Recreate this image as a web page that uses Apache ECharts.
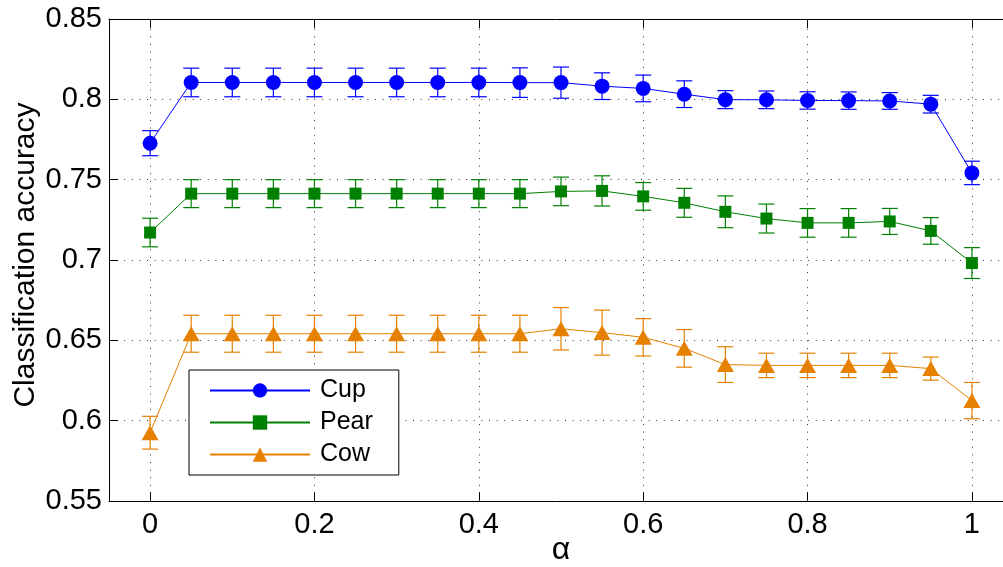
<!DOCTYPE html>
<html>
<head>
<meta charset="utf-8">
<script src="https://cdn.jsdelivr.net/npm/echarts@6/dist/echarts.min.js"></script>
<style>
  html, body { margin: 0; padding: 0; background: #ffffff; }
  #chart { width: 1003px; height: 567px; }
</style>
</head>
<body>
<div id="chart"></div>
<script>
// Regularisation weight alpha and mean accuracy (± std) per object class
const alpha = [0, 0.05, 0.1, 0.15, 0.2, 0.25, 0.3, 0.35, 0.4, 0.45, 0.5,
               0.55, 0.6, 0.65, 0.7, 0.75, 0.8, 0.85, 0.9, 0.95, 1];

const cupAcc = [0.7727, 0.8105, 0.8105, 0.8105, 0.8105, 0.8105, 0.8105, 0.8105, 0.8105, 0.8104, 0.8104,
                0.8082, 0.8068, 0.8032, 0.7998, 0.7997, 0.7993, 0.7992, 0.7990, 0.7970, 0.7542];
const cupErr = [0.0078, 0.0089, 0.0089, 0.0089, 0.0089, 0.0089, 0.0089, 0.0089, 0.0089, 0.0092, 0.0097,
                0.0083, 0.0083, 0.0083, 0.0056, 0.0055, 0.0054, 0.0054, 0.0052, 0.0055, 0.0073];

const pearAcc = [0.7171, 0.7413, 0.7413, 0.7413, 0.7413, 0.7413, 0.7413, 0.7413, 0.7413, 0.7413, 0.7427,
                 0.7430, 0.7396, 0.7356, 0.7300, 0.7258, 0.7231, 0.7231, 0.7240, 0.7181, 0.6981];
const pearErr = [0.0089, 0.0087, 0.0087, 0.0087, 0.0087, 0.0087, 0.0087, 0.0087, 0.0087, 0.0087, 0.0089,
                 0.0094, 0.0086, 0.0090, 0.0099, 0.0090, 0.0089, 0.0089, 0.0081, 0.0083, 0.0096];

const cowAcc = [0.5925, 0.6541, 0.6541, 0.6541, 0.6541, 0.6541, 0.6541, 0.6541, 0.6541, 0.6541, 0.6572,
                0.6548, 0.6519, 0.6450, 0.6349, 0.6344, 0.6344, 0.6344, 0.6344, 0.6324, 0.6125];
const cowErr = [0.0102, 0.0115, 0.0115, 0.0115, 0.0115, 0.0115, 0.0115, 0.0115, 0.0115, 0.0115, 0.0132,
                0.0140, 0.0116, 0.0117, 0.0111, 0.0076, 0.0076, 0.0076, 0.0076, 0.0072, 0.0113];

const seriesNames = ['Cup', 'Pear', 'Cow'];
const xTickValues = [0, 0.2, 0.4, 0.6, 0.8, 1];

const FONT = '"Liberation Sans", Arial, Helvetica, sans-serif';
const COLORS = { Cup: '#0000ff', Pear: '#008000', Cow: '#e68000' };

function pointsOf(acc) {
  return alpha.map((a, i) => [a, acc[i]]);
}
function barsOf(acc, err) {
  return alpha.map((a, i) => [a, acc[i] - err[i], acc[i] + err[i]]);
}

// Vertical bar with horizontal caps at both ends
function errorBarRenderer(color) {
  return function (params, api) {
    const x = api.value(0);
    const lo = api.coord([x, api.value(1)]);
    const hi = api.coord([x, api.value(2)]);
    const half = 8;
    const style = { stroke: color, lineWidth: 1.2 };
    return {
      type: 'group',
      children: [
        { type: 'line', shape: { x1: hi[0], y1: hi[1], x2: lo[0], y2: lo[1] }, style: style },
        { type: 'line', shape: { x1: hi[0] - half, y1: hi[1], x2: hi[0] + half, y2: hi[1] }, style: style },
        { type: 'line', shape: { x1: lo[0] - half, y1: lo[1], x2: lo[0] + half, y2: lo[1] }, style: style }
      ]
    };
  };
}

const gridDots = { color: '#333333', width: 1, type: [1, 6.6] };

const classes = [
  { name: 'Cup',  acc: cupAcc,  err: cupErr,  symbol: 'circle',   size: 15 },
  { name: 'Pear', acc: pearAcc, err: pearErr, symbol: 'rect',     size: 12 },
  { name: 'Cow',  acc: cowAcc,  err: cowErr,  symbol: 'triangle', size: [17, 15] }
];

const series = [];
classes.forEach(function (c) {
  series.push({
    type: 'custom',
    name: c.name + ' error',
    renderItem: errorBarRenderer(COLORS[c.name]),
    data: barsOf(c.acc, c.err),
    encode: { x: 0, y: [1, 2] },
    z: 3,
    silent: true
  });
});
classes.forEach(function (c, idx) {
  const s = {
    type: 'line',
    name: c.name,
    data: pointsOf(c.acc),
    symbol: c.symbol,
    symbolSize: c.size,
    showAllSymbol: true,
    lineStyle: { color: COLORS[c.name], width: 1 },
    itemStyle: { color: COLORS[c.name] },
    emphasis: { disabled: true },
    z: 4
  };
  if (idx === 0) {
    // dotted vertical grid at the labelled alpha values
    s.markLine = {
      silent: true,
      symbol: 'none',
      label: { show: false },
      lineStyle: gridDots,
      z: 1,
      data: xTickValues.map(v => ({ xAxis: v }))
    };
  }
  series.push(s);
});

const chart = echarts.init(document.getElementById('chart'), null, { renderer: 'canvas' });
chart.setOption({
  animation: false,
  backgroundColor: '#ffffff',
  grid: { left: 109, top: 19, width: 904, height: 482, containLabel: false, outerBoundsMode: 'none' },
  xAxis: [
    {
      type: 'value',
      min: -0.05,
      max: 1.05,
      name: 'α',
      nameLocation: 'middle',
      nameMoveOverlap: false,
      nameGap: 33,
      nameTextStyle: { fontFamily: FONT, fontSize: 32, color: '#000' },
      axisLine: { show: true, onZero: false, lineStyle: { color: '#000', width: 1 } },
      axisTick: { show: true, inside: true, length: 9, customValues: xTickValues, lineStyle: { color: '#000' } },
      axisLabel: { show: true, customValues: xTickValues, margin: 9, fontFamily: FONT, fontSize: 29, color: '#000',
                   formatter: v => String(+v.toFixed(2)) },
      splitLine: { show: false }
    },
    {
      type: 'value',
      position: 'top',
      min: -0.05,
      max: 1.05,
      axisLine: { show: true, onZero: false, lineStyle: { color: '#000', width: 1 } },
      axisTick: { show: true, inside: true, length: 9, customValues: xTickValues, lineStyle: { color: '#000' } },
      axisLabel: { show: false },
      splitLine: { show: false }
    }
  ],
  yAxis: {
    type: 'value',
    min: 0.55,
    max: 0.85,
    interval: 0.05,
    name: 'Classification accuracy',
    nameLocation: 'middle',
    nameRotate: 90,
    nameMoveOverlap: false,
    nameGap: 68,
    nameTextStyle: { fontFamily: FONT, fontSize: 30, color: '#000', padding: [0, 0, 0, 10] },
    axisLine: { show: true, onZero: false, lineStyle: { color: '#000', width: 1 } },
    axisTick: { show: true, inside: true, length: 9, lineStyle: { color: '#000' } },
    axisLabel: { margin: 7, fontFamily: FONT, fontSize: 29, color: '#000',
                 formatter: v => String(+v.toFixed(2)) },
    splitLine: { show: true, lineStyle: gridDots }
  },
  legend: {
    data: seriesNames,
    orient: 'vertical',
    left: 189,
    top: 370,
    padding: [8, 26, 8, 20],
    itemWidth: 100,
    itemHeight: 18,
    itemGap: 7,
    backgroundColor: '#ffffff',
    borderColor: '#000000',
    borderWidth: 1,
    borderRadius: 0,
    selectedMode: false,
    z: 10,
    textStyle: { fontFamily: FONT, fontSize: 25, color: '#000', lineHeight: 24, padding: [0, 0, 0, 5] }
  },
  series: series
});
</script>
</body>
</html>
